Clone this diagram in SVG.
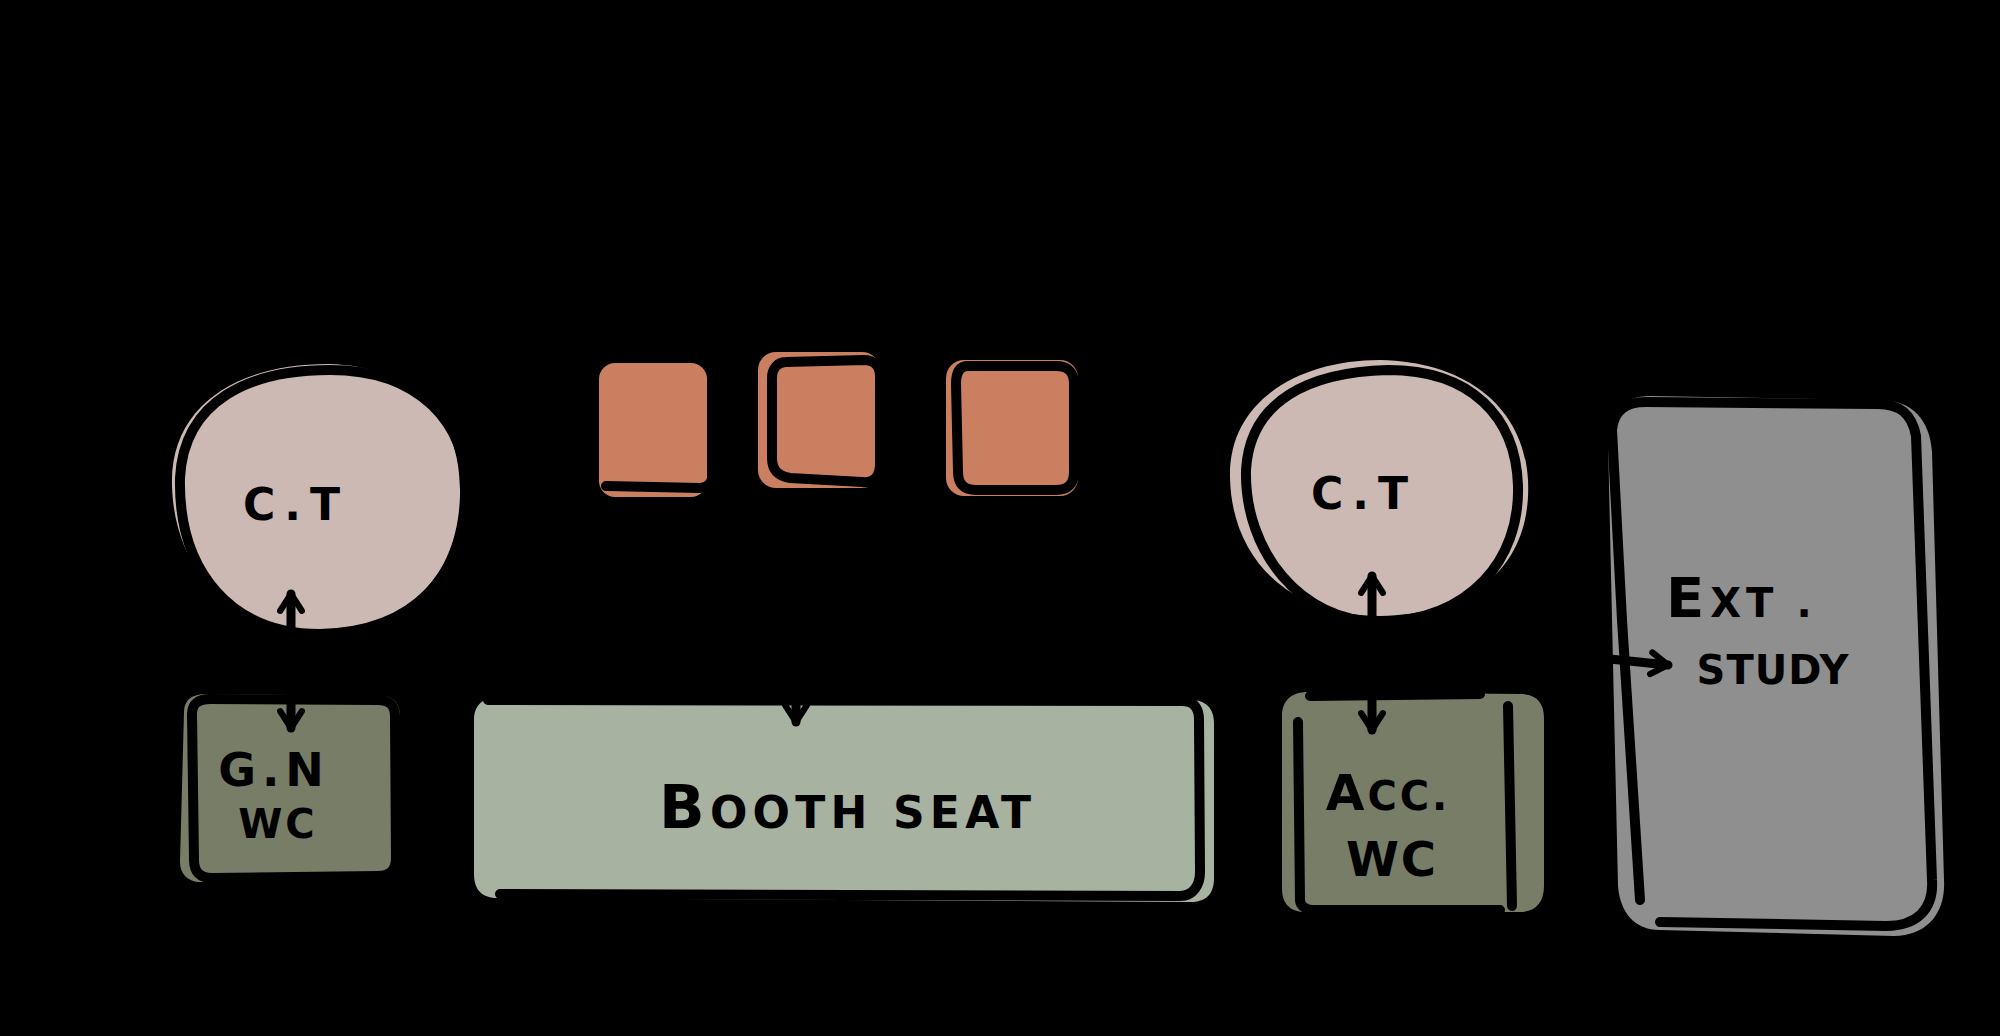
<svg xmlns="http://www.w3.org/2000/svg" width="2000" height="1036" viewBox="0 0 2000 1036">
<style>
.ol{fill:none;stroke:#000;stroke-width:10;stroke-linecap:round;stroke-linejoin:round}
.pink{fill:#cdb9b4}
.orange{fill:#c97f60}
.sage{fill:#a8b2a1}
.olive{fill:#777d67}
.grey{fill:#8f8f8f}
.lbl{font-family:"DejaVu Sans","Liberation Sans",sans-serif;font-weight:bold;fill:#000;text-anchor:middle}
.con{fill:none;stroke:#000;stroke-width:9;stroke-linecap:round}
</style>
<defs>
<marker id="ah" viewBox="0 0 12 12" refX="9" refY="6" markerWidth="3.2" markerHeight="3.2" orient="auto-start-reverse" markerUnits="strokeWidth">
<path d="M2,1.5 L9,6 L2,10.5" fill="none" stroke="#000" stroke-width="2.6" stroke-linecap="round" stroke-linejoin="round"/>
</marker>
</defs>
<rect x="0" y="0" width="2000" height="1036" fill="#000"/>

<g id="ct-left">
<path class="pink" d="M172,485 C170,405 238,364 328,364 C418,366 462,420 460,495 C458,575 410,628 320,630 C228,630 174,568 172,485 Z"/>
<path class="ol" d="M180,478 C184,400 250,370 330,370 C420,370 468,424 466,494 C464,572 418,632 320,634 C232,634 178,572 180,478 Z"/>
<text class="lbl" x="296" y="520" font-size="44" letter-spacing="9">C.T</text>
</g>

<g id="gn-wc">
<path class="olive" d="M184,712 C184,700 192,694 206,694 L382,696 C394,696 400,704 400,716 L398,860 C398,874 390,880 376,880 L200,882 C188,882 180,874 180,862 Z"/>
<path class="ol" d="M192,714 C192,704 198,699 210,699 L378,700 C390,700 395,706 395,716 L396,858 C396,870 390,876 378,876 L212,878 C200,878 194,872 194,860 Z"/>
<text class="lbl" x="274" y="786" font-size="46" letter-spacing="6">G.N</text>
<text class="lbl" x="278" y="838" font-size="40" letter-spacing="3">WC</text>
</g>

<g id="seat1">
<rect class="orange" x="599" y="363" width="108" height="134" rx="16"/>
<path class="ol" d="M606,486 L700,488 C709,488 713,482 713,472 L712,380"/>
</g>
<g id="seat2">
<rect class="orange" x="758" y="352" width="122" height="136" rx="18"/>
<path class="ol" d="M786,362 L864,360 C874,360 880,366 880,376 L880,464 C880,476 874,484 862,482 L790,478 C778,476 772,470 772,458 L772,378 C772,368 778,362 786,362 Z"/>
</g>
<g id="seat3">
<rect class="orange" x="946" y="360" width="132" height="136" rx="18"/>
<path class="ol" d="M968,366 L1056,366 C1068,366 1074,372 1074,384 L1074,472 C1074,484 1068,490 1056,490 L976,490 C964,490 958,484 958,472 L956,384 C956,372 960,366 968,366 Z"/>
</g>

<g id="booth-seat">
<path class="sage" d="M474,720 C474,704 484,697 500,697 L1190,700 C1206,700 1214,708 1214,724 L1214,878 C1214,894 1206,902 1190,902 L498,898 C482,898 474,890 474,874 Z"/>
<path class="ol" d="M488,700 L1182,701 C1194,701 1199,708 1199,720 L1200,872 C1200,884 1194,896 1180,896 L500,894"/>
<path class="ol" d="M644,904 L900,906" style="stroke-width:6"/>
<text class="lbl" x="845" y="828" textLength="372" lengthAdjust="spacing"><tspan font-size="60">B</tspan><tspan font-size="44">OOTH  SEAT</tspan></text>
</g>

<g id="ct-right">
<path class="pink" d="M1230,478 C1228,400 1300,360 1380,360 C1470,362 1524,410 1528,480 C1532,560 1480,614 1380,616 C1290,616 1232,560 1230,478 Z"/>
<path class="ol" d="M1246,470 C1250,400 1310,372 1388,370 C1470,370 1516,416 1518,486 C1520,560 1470,620 1380,622 C1300,622 1244,550 1246,470 Z"/>
<text class="lbl" x="1364" y="509" font-size="44" letter-spacing="9">C.T</text>
</g>

<g id="acc-wc">
<path class="olive" d="M1282,716 C1282,700 1292,692 1308,692 L1520,694 C1536,694 1544,702 1544,718 L1544,886 C1544,902 1536,912 1520,912 L1306,912 C1290,912 1282,904 1282,888 Z"/>
<path class="ol" d="M1298,722 L1300,900 C1300,906 1306,910 1314,910 L1500,910"/>
<path class="ol" d="M1508,706 L1512,906"/>
<path class="ol" d="M1310,696 L1480,694"/>
<text class="lbl" x="1388" y="810" letter-spacing="3"><tspan font-size="50">A</tspan><tspan font-size="40">CC.</tspan></text>
<text class="lbl" x="1392" y="876" font-size="48" letter-spacing="2">WC</text>
</g>

<g id="ext-study">
<path class="grey" d="M1608,440 C1608,410 1624,396 1650,396 L1880,400 C1912,400 1930,420 1932,452 L1944,880 C1946,914 1926,936 1894,936 L1660,930 C1634,930 1620,912 1618,886 Z"/>
<path class="ol" d="M1612,430 C1614,410 1626,402 1646,402 L1878,404 C1900,404 1912,414 1916,436 L1932,880 C1934,910 1916,926 1886,926 L1660,922"/>
<path class="ol" d="M1612,430 L1622,620 L1640,900"/>
<text class="lbl" x="1666" y="617" style="text-anchor:start"><tspan font-size="56" letter-spacing="6">E</tspan><tspan font-size="40" letter-spacing="5">XT</tspan><tspan font-size="40" dx="18">.</tspan></text>
<text class="lbl" x="1773" y="684" font-size="40" letter-spacing="1">STUDY</text>
</g>

<g id="connectors">
<line class="con" x1="291" y1="594" x2="291" y2="728" marker-start="url(#ah)" marker-end="url(#ah)"/>
<line class="con" x1="796" y1="640" x2="796" y2="722" marker-end="url(#ah)"/>
<line class="con" x1="1372" y1="576" x2="1372" y2="730" marker-start="url(#ah)" marker-end="url(#ah)"/>
<line class="con" x1="1600" y1="658" x2="1668" y2="665" marker-end="url(#ah)"/>
</g>
</svg>
